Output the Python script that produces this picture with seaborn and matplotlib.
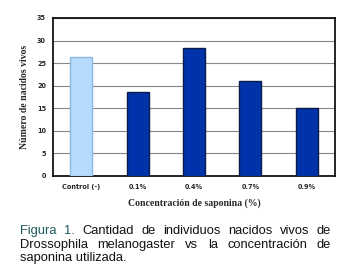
import matplotlib
matplotlib.use("Agg")
import matplotlib.pyplot as plt
import pandas as pd
import seaborn as sns

categorias = ["Control (-)", "0.1%", "0.4%", "0.7%", "0.9%"]
nacidos_vivos = [26.4, 18.6, 28.3, 21.1, 15.0]
colores = ["#B7DBFF", "#0033AA", "#0033AA", "#0033AA", "#0033AA"]
bordes = ["#8DB8E0", "#0A1A4A", "#0A1A4A", "#0A1A4A", "#0A1A4A"]
y_ticks = [0, 5, 10, 15, 20, 25, 30, 35]

caption_lines = [
    "Figura 1. Cantidad de individuos nacidos vivos de",
    "Drossophila melanogaster vs la concentración de",
    "saponina utilizada.",
]

df = pd.DataFrame({"conc": categorias, "vivos": nacidos_vivos})

sns.set_style("white")
fig = plt.figure(figsize=(3.57, 2.76), dpi=100)
ax = fig.add_axes([53 / 357, 1 - 176 / 276, 282 / 357, 158 / 276])

sns.barplot(data=df, x="conc", y="vivos", hue="conc", palette=colores,
            saturation=1, legend=False, width=0.39, ax=ax, zorder=3)
for patch, ec in zip(ax.patches, bordes):
    patch.set_edgecolor(ec)
    patch.set_linewidth(1.0)

ax.set_ylim(0, 35)
ax.set_yticks(y_ticks)
ax.yaxis.grid(True, color="#888888", linewidth=0.8, zorder=0)
ax.set_axisbelow(True)
for s in ax.spines.values():
    s.set_color("black")
    s.set_linewidth(1.2)
ax.tick_params(axis="both", length=0, labelsize=4.7)
ax.tick_params(axis="y", pad=5)
ax.tick_params(axis="x", pad=6)
for lab in ax.get_xticklabels() + ax.get_yticklabels():
    lab.set_fontweight("bold")
    lab.set_family("DejaVu Sans")

ax.set_xlabel("Concentración de saponina (%)", family="Liberation Serif",
              fontweight="bold", fontsize=7, labelpad=6)
ax.set_ylabel("Número de nacidos vivos", family="Liberation Serif",
              fontweight="bold", fontsize=7, labelpad=6)

# caption, justified on the first two lines
fig.canvas.draw()
renderer = fig.canvas.get_renderer()
left, right = 20, 331
ys = [231, 245, 258]
cap_font = dict(family="Liberation Sans", fontsize=9.3)
for i, (line, y) in enumerate(zip(caption_lines, ys)):
    words = line.split(" ")
    if i == len(caption_lines) - 1:
        fig.text(left / 357, 1 - y / 276, line, va="center", ha="left",
                 color="#111111", **cap_font)
        continue
    texts = []
    for j, w in enumerate(words):
        col = "#1F5A5A" if (i == 0 and j < 2) else "#111111"
        t = fig.text(0, 1 - y / 276, w, va="center", ha="left", color=col, **cap_font)
        texts.append(t)
    widths = [t.get_window_extent(renderer).width for t in texts]
    gap = (right - left - sum(widths)) / (len(words) - 1)
    x = left
    for t, w in zip(texts, widths):
        t.set_x(x / 357)
        x += w + gap

fig.savefig("out.png", dpi=100)
